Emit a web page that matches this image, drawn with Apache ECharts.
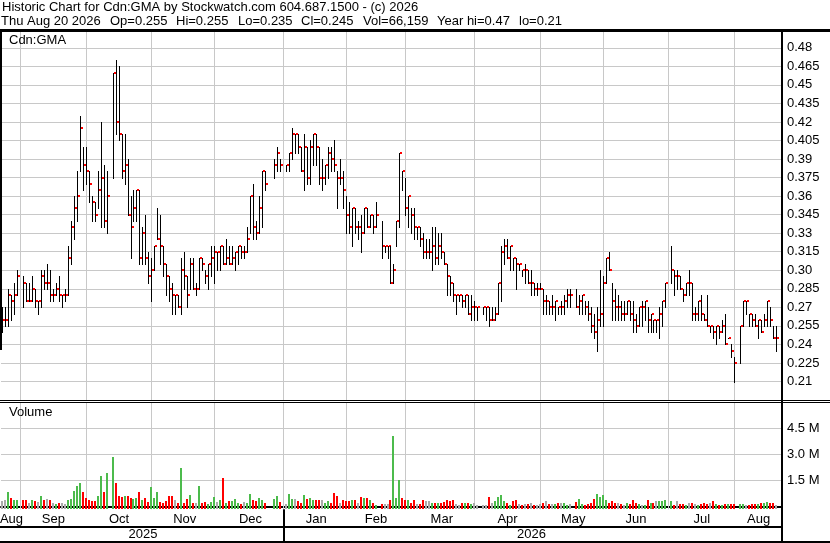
<!DOCTYPE html>
<html><head><meta charset="utf-8">
<script src="https://cdn.jsdelivr.net/npm/echarts@6/dist/echarts.min.js"></script>
<style>html,body{margin:0;padding:0;background:#fff}#c{width:830px;height:543px}</style>
</head><body><div id="c"></div>
<script>
// ---- categories ----
const FIRST_SLOT = '2025-08-22';
const LAST_SLOT = '2026-08-21';
const LAST_TRADE = '2026-08-20';
const holidays = ['2025-09-01','2025-10-13','2025-12-25','2025-12-26','2026-01-01','2026-02-16','2026-04-03','2026-05-18','2026-07-01','2026-08-03'];
const monthNames = ['Jan','Feb','Mar','Apr','May','Jun','Jul','Aug','Sep','Oct','Nov','Dec'];
const titleLine1 = 'Historic Chart for Cdn:GMA by Stockwatch.com 604.687.1500 - (c) 2026';
const titleLine2Parts = ['Thu Aug 20 2026','Op=0.255','Hi=0.255','Lo=0.235','Cl=0.245','Vol=66,159','Year hi=0.47','lo=0.21'];
const symbolLabel = 'Cdn:GMA';
const volumeLabel = 'Volume';

// ---- series values (one entry per trading day) ----
const high = [
 .27,.27,.285,.28,.29,.30,
 .295,.29,.29,.295,.285,.275,.30,.30,.305,.30,.285,.29,.295,.28,.285,.32,.34,.36,.38,.425,.40,
 .40,.38,.36,.355,.38,.42,.385,.38,.46,.47,.465,.41,.41,.39,.36,.365,.365,.365,.335,.345,.315,.31,
 .32,.35,.345,.32,.305,.295,.29,.28,.28,.31,.315,.295,.31,.31,.29,.31,.31,.30,.305,.32,
 .32,.315,.32,.32,.325,.32,.32,.315,.32,.32,.32,.335,.36,.37,.34,.36,.38,.38,.39,.40,.39,
 .385,.395,.415,.41,.41,.40,.41,.40,.405,.41,.41,.40,.39,.385,.40,.40,.405,.38,.39,.38,.36,
 .355,.35,.35,.34,.345,.35,.35,.345,.345,.355,.34,.32,.32,.32,.305,.34,.395,.38,.375,
 .36,.35,.35,.335,.335,.33,.325,.325,.335,.335,.33,.33,.315,.305,.295,.29,.28,.28,.28,.28,.28,.28,
 .275,.27,.27,.27,.27,.27,.27,.29,.32,.325,.325,.32,.31,.31,.305,.30,.305,.30,.30,.29,.29,
 .29,.285,.28,.275,.28,.275,.27,.275,.28,.285,.285,.285,.28,.28,.275,.275,.27,.265,.27,.30,
 .295,.31,.315,.29,.285,.28,.275,.275,.275,.275,.275,.265,.27,.275,.275,.27,.265,.26,.26,.27,.275,.29,
 .32,.30,.30,.295,.285,.29,.30,.29,.27,.275,.28,.265,.28,.255,.255,.255,.255,.26,.265,.245,.24,.23,
 .255,.275,.275,.265,.265,.265,.26,.26,.265,.275,.27,.255,.255
];
const low = [
 .25,.255,.255,.26,.265,.28,
 .27,.275,.275,.275,.27,.265,.27,.285,.285,.275,.275,.28,.275,.27,.275,.28,.305,.325,.34,.38,.365,
 .37,.355,.34,.34,.35,.335,.335,.33,.375,.41,.405,.375,.37,.345,.31,.34,.34,.305,.305,.305,.29,.275,
 .30,.325,.305,.295,.28,.275,.265,.265,.27,.265,.285,.27,.285,.285,.28,.285,.30,.29,.285,.295,
 .29,.30,.30,.305,.305,.305,.305,.30,.305,.31,.31,.315,.33,.325,.325,.33,.335,.365,.375,.38,.38,
 .38,.38,.39,.395,.395,.38,.365,.37,.37,.385,.385,.37,.365,.37,.375,.38,.38,.35,.37,.35,.33,
 .33,.32,.33,.325,.315,.33,.335,.335,.33,.335,.31,.315,.31,.29,.29,.32,.335,.365,.345,
 .335,.33,.325,.325,.32,.31,.31,.31,.30,.305,.305,.31,.305,.28,.28,.275,.265,.275,.27,.27,.265,.26,
 .26,.26,.265,.26,.255,.26,.26,.265,.275,.305,.31,.30,.30,.285,.30,.295,.29,.29,.28,.28,.28,
 .285,.265,.265,.265,.265,.26,.265,.265,.265,.27,.27,.27,.265,.265,.265,.26,.25,.245,.235,.255,
 .255,.29,.30,.26,.26,.26,.26,.26,.265,.26,.25,.25,.255,.255,.26,.25,.25,.25,.25,.245,.255,.27,
 .29,.28,.285,.285,.275,.28,.28,.26,.26,.26,.26,.26,.255,.25,.245,.24,.245,.25,.24,.245,.23,.21,
 .225,.255,.265,.255,.255,.255,.245,.25,.255,.255,.255,.245,.235
];
const close = [
 .26,.26,.28,.275,.28,.295,
 .29,.275,.275,.285,.275,.275,.295,.29,.29,.28,.28,.285,.28,.28,.28,.31,.335,.35,.36,.415,.385,
 .38,.37,.355,.345,.365,.375,.34,.36,.46,.42,.41,.38,.385,.345,.335,.35,.365,.31,.33,.31,.295,.30,
 .32,.325,.32,.305,.295,.285,.28,.28,.27,.30,.295,.28,.305,.285,.285,.31,.305,.295,.305,.31,
 .315,.315,.32,.305,.31,.305,.31,.315,.32,.315,.315,.325,.36,.335,.33,.35,.38,.37,.385,.395,.385,
 .385,.395,.41,.41,.40,.38,.40,.375,.40,.41,.40,.375,.375,.385,.395,.39,.385,.375,.375,.365,.345,
 .335,.35,.335,.335,.33,.35,.335,.345,.335,.345,.32,.32,.32,.29,.30,.34,.395,.38,.35,
 .36,.345,.335,.335,.325,.315,.315,.315,.32,.31,.32,.315,.305,.295,.29,.28,.28,.28,.275,.28,.265,.27,
 .27,.27,.27,.27,.26,.26,.265,.29,.315,.32,.31,.32,.31,.305,.305,.30,.30,.29,.29,.285,.285,
 .285,.275,.275,.27,.27,.275,.27,.27,.275,.28,.28,.27,.275,.28,.27,.265,.255,.25,.26,.265,
 .29,.31,.30,.275,.27,.27,.265,.265,.275,.265,.26,.255,.27,.27,.275,.26,.265,.26,.26,.265,.275,.29,
 .30,.295,.295,.285,.28,.29,.29,.265,.265,.275,.265,.26,.255,.255,.25,.255,.25,.255,.24,.245,.235,.225,
 .255,.275,.275,.265,.26,.255,.26,.25,.26,.275,.26,.245,.245
];
const volumeK = [
 300,340,840,490,340,340,
 355,390,170,340,280,245,620,390,450,390,170,130,170,170,130,340,450,900,1180,1350,840,
 505,340,280,280,620,1740,840,1910,2870,1350,620,545,580,620,505,410,505,840,390,505,245,1120,
 505,800,245,170,280,620,620,390,205,2190,170,450,675,170,170,1180,205,245,130,245,
 545,245,340,1630,205,280,320,450,170,130,245,170,730,390,320,505,390,200,450,620,245,
 110,730,450,450,320,205,675,450,505,340,340,390,340,170,280,190,785,620,170,340,280,
 280,390,340,170,560,505,505,340,170,75,110,110,110,390,4070,505,1520,505,340,
 340,170,390,110,150,340,280,280,170,170,205,205,245,340,280,340,110,75,205,170,205,110,
 205,60,75,75,560,170,280,560,675,280,205,75,280,340,110,75,110,110,205,75,75,
 110,205,280,110,110,110,170,205,205,75,110,245,450,110,75,120,170,450,730,560,
 675,340,205,280,170,205,150,75,170,110,340,205,110,75,75,340,170,205,280,280,280,340,
 280,75,280,110,110,75,205,205,110,75,110,170,110,170,280,110,75,75,110,110,110,110,
 110,110,75,75,110,110,110,170,170,245,170,170,66
];

// ---- build slots (weekdays) ----
function iso(d){return d.toISOString().slice(0,10);}
const slots = [];
for (let d = new Date(FIRST_SLOT+'T00:00:00Z'); iso(d) <= LAST_SLOT; d.setUTCDate(d.getUTCDate()+1)) {
  const wd = d.getUTCDay();
  if (wd !== 0 && wd !== 6) slots.push(iso(d));
}
const tradeDays = slots.filter(s => holidays.indexOf(s) < 0 && s <= LAST_TRADE);
const slotIndex = {}; slots.forEach((s,i)=>slotIndex[s]=i);

const hlcData = tradeDays.map((d,k)=>[slotIndex[d], high[k], low[k], close[k]]);
const volData = tradeDays.map((d,k)=>{
  const dir = k===0 ? 0 : Math.sign(Math.round((close[k]-close[k-1])*1000));
  return [slotIndex[d], volumeK[k]*1000, dir];
});

// month boundaries: slot of the last weekday on/before the 1st of each month
const monthGrid = [];
for (let i=1;i<slots.length;i++){
  if (slots[i].slice(0,7) !== slots[i-1].slice(0,7)) {
    const isFirst = slots[i].slice(8,10) === '01';
    monthGrid.push({idx: isFirst ? i : i-1, ym: slots[i].slice(0,7)});
  }
}
const bounds = [{idx:0, ym:slots[0].slice(0,7)}].concat(monthGrid);
const monthLabelAt = {};
bounds.forEach((b,k)=>{
  const endIdx = k+1<bounds.length ? bounds[k+1].idx : slots.length-1;
  const mid = Math.round((b.idx+endIdx)/2);
  monthLabelAt[mid] = monthNames[parseInt(b.ym.slice(5,7),10)-1];
});
const yearBounds = [{idx:0, y:slots[0].slice(0,4)}].concat(monthGrid.filter(m=>m.ym.slice(5,7)==='01').map(m=>({idx:m.idx, y:m.ym.slice(0,4)})));
const yearLabelAt = {};
yearBounds.forEach((b,k)=>{
  const endIdx = k+1<yearBounds.length ? yearBounds[k+1].idx : slots.length-1;
  yearLabelAt[Math.round((b.idx+endIdx)/2)] = b.y;
});
const yearSep = yearBounds.slice(1).map(b=>[b.idx, 0]);

const FONT = '"Liberation Sans", Arial, sans-serif';
const GRID_C = '#c8c8c8';
const GREEN = '#4cbb4c', RED = '#ff0000', GREY = '#aaaaaa';

function fmtPrice(v){ let s = v.toFixed(3); if (s.charAt(s.length-1)==='0') s = v.toFixed(2); return s; }

// header line 2 laid out field by field
const mctx = document.createElement('canvas').getContext('2d');
mctx.font = '13px ' + FONT;
const line2Start = 1, line2End = 562;
const partW = titleLine2Parts.map(t=>mctx.measureText(t).width);
const gap = (line2End - line2Start - partW.reduce((a,b)=>a+b,0)) / (titleLine2Parts.length-1);
let xCur = line2Start;
const line2Graphics = titleLine2Parts.map((t,k)=>{
  const g = {type:'text', z:100, style:{text:t, x:Math.round(xCur), y:15, font:'13px '+FONT, fill:'#000', verticalAlign:'top'}};
  xCur += partW[k] + gap;
  return g;
});

const chart = echarts.init(document.getElementById('c'), null, {renderer:'canvas'});
chart.setOption({
  animation:false,
  backgroundColor:'#fff',
  grid:[
    {left:1, right:49, top:29.26, bottom:142.96, containLabel:false, outerBoundsMode:'none'},
    {left:1, right:49, top:402.3, bottom:36.7, containLabel:false, outerBoundsMode:'none'}
  ],
  xAxis:[
    {type:'category', gridIndex:0, data:slots, boundaryGap:true,
     axisLine:{show:false}, axisTick:{show:false}, axisLabel:{show:false}, splitLine:{show:false}},
    {type:'category', gridIndex:1, data:slots, boundaryGap:true, position:'bottom', offset:3.5,
     axisLine:{show:true, lineStyle:{color:'#000', width:2}}, axisTick:{show:false}, splitLine:{show:false},
     axisLabel:{show:true, interval:(i)=>monthLabelAt[i]!==undefined, formatter:(v,i)=>monthLabelAt[i]||'',
       margin:3, fontSize:13, fontFamily:FONT, color:'#000'}},
    {type:'category', gridIndex:1, data:slots, boundaryGap:true, position:'bottom', offset:3.5,
     axisLine:{show:false}, axisTick:{show:false}, splitLine:{show:false},
     axisLabel:{show:true, interval:(i)=>yearLabelAt[i]!==undefined, formatter:(v,i)=>yearLabelAt[i]||'',
       margin:18, fontSize:13, fontFamily:FONT, color:'#000'}}
  ],
  yAxis:[
    {type:'value', gridIndex:0, position:'right', min:0.195, max:0.495, interval:0.015,
     axisLine:{show:false}, axisTick:{show:false},
     axisLabel:{show:true, showMinLabel:false, showMaxLabel:false, formatter:fmtPrice, margin:6,
       fontSize:13, fontFamily:FONT, color:'#000'},
     splitLine:{show:true, lineStyle:{color:GRID_C, width:1}}},
    {type:'value', gridIndex:1, position:'right', min:0, max:6000000, interval:1500000,
     axisLine:{show:false}, axisTick:{show:false},
     axisLabel:{show:true, showMinLabel:false, showMaxLabel:false, formatter:(v)=>(v/1e6).toFixed(1)+' M', margin:6,
       fontSize:13, fontFamily:FONT, color:'#000'},
     splitLine:{show:true, lineStyle:{color:GRID_C, width:1}}}
  ],
  series:[
    {type:'custom', name:'monthGridP', xAxisIndex:0, yAxisIndex:0, z:1, silent:true,
     data: monthGrid.map(m=>[m.idx, 0.3]),
     renderItem:(params, api)=>{
       const cs = params.coordSys; const x = Math.floor(api.coord([api.value(0), 0.3])[0]) + 0.5;
       return {type:'line', shape:{x1:x, y1:cs.y, x2:x, y2:cs.y+cs.height}, style:{stroke:GRID_C, lineWidth:1}};
     }},
    {type:'custom', name:'monthGridV', xAxisIndex:1, yAxisIndex:1, z:1, silent:true,
     data: monthGrid.map(m=>[m.idx, 0]),
     renderItem:(params, api)=>{
       const cs = params.coordSys; const x = Math.floor(api.coord([api.value(0), 0])[0]) + 0.5;
       return {type:'line', shape:{x1:x, y1:cs.y, x2:x, y2:cs.y+cs.height+3}, style:{stroke:GRID_C, lineWidth:1}};
     }},
    {type:'custom', name:'HLC', xAxisIndex:0, yAxisIndex:0, z:5, silent:true,
     data: hlcData,
     renderItem:(params, api)=>{
       const i = api.value(0);
       const h = api.coord([i, api.value(1)]), l = api.coord([i, api.value(2)]), c = api.coord([i, api.value(3)]);
       const p = Math.floor(h[0]);
       return {type:'group', children:[
         {type:'rect', shape:{x:p, y:Math.round(h[1]), width:1, height:Math.max(1, Math.round(l[1])-Math.round(h[1])+1)}, style:{fill:'#000'}},
         {type:'rect', shape:{x:p+1, y:Math.round(c[1])-1, width:2, height:2}, style:{fill:'#f00'}}
       ]};
     }},
    {type:'custom', name:'Volume', xAxisIndex:1, yAxisIndex:1, z:5, silent:true,
     data: volData,
     renderItem:(params, api)=>{
       const cs = params.coordSys;
       const i = api.value(0);
       const t = api.coord([i, api.value(1)]);
       const p = Math.floor(t[0]);
       const dir = api.value(2);
       const bottom = Math.round(cs.y + cs.height + 3);
       const top = Math.round(t[1]);
       return {type:'rect', shape:{x:p-1, y:top, width:2, height:Math.max(1,bottom-top)},
         style:{fill: dir>0?GREEN:(dir<0?RED:GREY)}};
     }},
    {type:'custom', name:'yearSep', xAxisIndex:1, yAxisIndex:1, z:6, silent:true, clip:false,
     data: yearSep,
     renderItem:(params, api)=>{
       const cs = params.coordSys; const p = Math.floor(api.coord([api.value(0), 0])[0]);
       const y0 = cs.y + cs.height + 3;
       return {type:'rect', shape:{x:p, y:y0, width:2, height:541-y0}, style:{fill:'#000'}};
     }}
  ],
  graphic:[
    {type:'rect', z:100, shape:{x:0, y:29, width:830, height:3}, style:{fill:'#000'}},
    {type:'rect', z:100, shape:{x:0, y:400, width:830, height:1}, style:{fill:'#000'}},
    {type:'rect', z:100, shape:{x:0, y:402, width:830, height:1}, style:{fill:'#000'}},
    {type:'rect', z:100, shape:{x:0, y:31, width:2, height:319}, style:{fill:'#000'}},
    {type:'rect', z:100, shape:{x:781, y:29, width:2, height:514}, style:{fill:'#000'}},
    {type:'rect', z:100, shape:{x:0, y:526, width:782, height:2}, style:{fill:'#000'}},
    {type:'rect', z:100, shape:{x:0, y:541, width:830, height:2}, style:{fill:'#000'}},
    {type:'text', z:100, style:{text:titleLine1, x:2, y:1, font:'13px '+FONT, fill:'#000', verticalAlign:'top'}},
    {type:'text', z:100, style:{text:symbolLabel, x:9, y:34, font:'13px '+FONT, fill:'#000', verticalAlign:'top'}},
    {type:'text', z:100, style:{text:volumeLabel, x:9, y:406, font:'13px '+FONT, fill:'#000', verticalAlign:'top'}}
  ].concat(line2Graphics)
});
</script>
</body></html>
